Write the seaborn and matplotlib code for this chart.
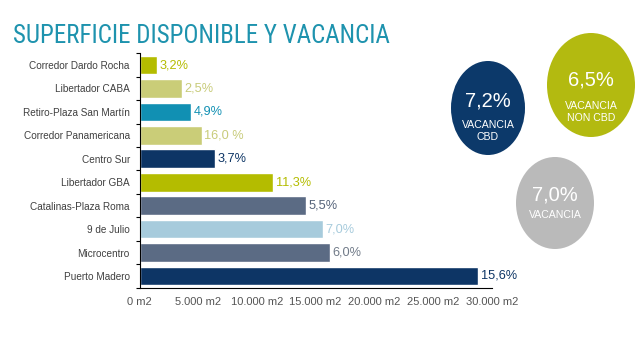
import matplotlib
matplotlib.use("Agg")
import matplotlib.pyplot as plt
import seaborn as sns
import pandas as pd
from matplotlib import font_manager
from matplotlib.patches import Ellipse
from matplotlib.ticker import FuncFormatter, MultipleLocator, FixedLocator

# ---- data ----
zones = ["Corredor Dardo Rocha", "Libertador CABA", "Retiro-Plaza San Martín",
         "Corredor Panamericana", "Centro Sur", "Libertador GBA",
         "Catalinas-Plaza Roma", "9 de Julio", "Microcentro", "Puerto Madero"]
surface_m2 = [1500, 3600, 4350, 5300, 6400, 11350, 14200, 15600, 16200, 28850]
vacancy_labels = ["3,2%", "2,5%", "4,9%", "16,0 %", "3,7%", "11,3%",
                  "5,5%", "7,0%", "6,0%", "15,6%"]
bar_colors = ["#B4BC00", "#CACD78", "#1190B3", "#CACD78", "#0D3565",
              "#B4BC00", "#5B6B84", "#A7CBDC", "#5B6B84", "#0D3565"]
label_colors = ["#B4BC00", "#C8CB7A", "#1190B3", "#C8CB7A", "#0D3565",
                "#B4BC00", "#55637A", "#A7CBDC", "#707A88", "#0D3565"]
xticks = [0, 5000, 10000, 15000, 20000, 25000, 30000]

bubble_values = ["7,2%", "6,5%", "7,0%"]
bubble_texts = ["VACANCIA\nCBD", "VACANCIA\nNON CBD", "VACANCIA"]
bubble_colors = ["#0C396A", "#B3BA10", "#BABABA"]

# ---- fonts ----
names = {f.name for f in font_manager.fontManager.ttflist}
cond = None
for cand in ["Liberation Sans Narrow", "Roboto Condensed", "Open Sans Condensed"]:
    if cand in names:
        cond = cand
        break
base = "Liberation Sans"

sns.set_theme(style="white")
plt.rcParams["font.family"] = [base, "DejaVu Sans"]
fam = [base, "DejaVu Sans"]
title_fam = [cond, "DejaVu Sans"] if cond else fam
title_size = 18.0 if cond else 14.6

df = pd.DataFrame({"zone": zones, "m2": surface_m2})

fig = plt.figure(figsize=(6.4, 3.38), dpi=100)
ax = fig.add_axes([139.5 / 640, 1 - 287.7 / 338, 352.2 / 640, 234.4 / 338])
sns.barplot(data=df, y="zone", x="m2", hue="zone", palette=bar_colors,
            order=zones, hue_order=zones, legend=False, width=0.8,
            saturation=1, ax=ax)
ax.set_xlim(0, 30000)
ax.set_ylim(9.5, -0.5)
ax.set_xlabel("")
ax.set_ylabel("")

for spine in ["top", "right"]:
    ax.spines[spine].set_visible(False)
for spine in ["left", "bottom"]:
    ax.spines[spine].set_color("black")
    ax.spines[spine].set_linewidth(0.8)

ax.xaxis.set_major_locator(FixedLocator(xticks))
ax.xaxis.set_major_formatter(FuncFormatter(lambda v, p: f"{int(v):,} m2".replace(",", ".")))
ax.tick_params(axis="x", direction="out", length=4, width=0.8, color="black",
               labelsize=8.0, labelcolor="#555555", pad=3)
ax.yaxis.set_minor_locator(MultipleLocator(1, offset=0.5))
ax.tick_params(axis="y", which="major", length=0, labelsize=7.2,
               labelcolor="#404040", pad=7)
ax.tick_params(axis="y", which="minor", direction="out", length=3, width=0.8,
               color="black", left=True)

for i, (v, t, c) in enumerate(zip(surface_m2, vacancy_labels, label_colors)):
    ax.annotate(t, (v, i), xytext=(2, 0), textcoords="offset points",
                va="center", ha="left", color=c, fontsize=9.2, family=fam)

# title
fig.text(13 / 640, 1 - 43 / 338, "SUPERFICIE DISPONIBLE Y VACANCIA",
         color="#1E93AE", fontsize=title_size, family=title_fam,
         va="baseline", ha="left")

# bubbles
ov = fig.add_axes([0, 0, 1, 1], zorder=3)
ov.set_xlim(0, 640)
ov.set_ylim(338, 0)
ov.axis("off")
centers = [(488, 108), (591, 85), (555, 203)]
sizes = [(74, 94), (88, 104), (78, 92)]
val_y = [101, 80, 195]
txt_y = [131, 112, 215]
for (cx, cy), (w, h), col, val, txt, vy, ty in zip(centers, sizes, bubble_colors,
                                                   bubble_values, bubble_texts,
                                                   val_y, txt_y):
    ov.add_patch(Ellipse((cx, cy), w, h, facecolor=col, edgecolor="none"))
    ov.text(cx, vy, val, color="white", ha="center", va="center",
            fontsize=14.5, family=fam)
    ov.text(cx, ty, txt, color="white", ha="center", va="center",
            fontsize=7.6, family=fam, linespacing=1.3)

fig.savefig("out.png", dpi=100, facecolor="white")
